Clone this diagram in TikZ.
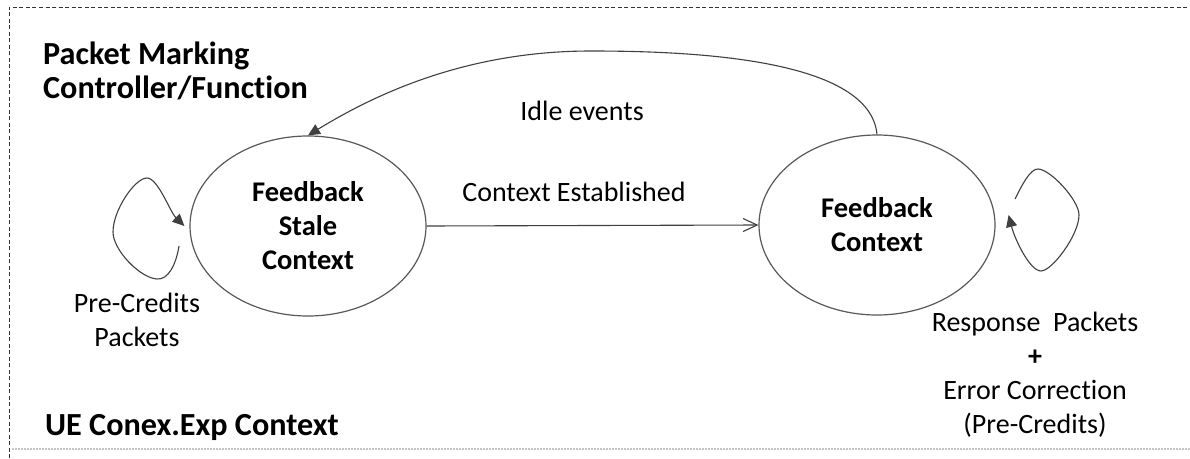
\documentclass[tikz,border=0pt]{standalone}
\usepackage{fontspec}
\setmainfont[Ligatures={NoCommon,NoContextual}]{Carlito}
\usetikzlibrary{shapes.geometric,arrows.meta}
\begin{document}
\begin{tikzpicture}[x=1pt,y=-1pt,
  state/.style={ellipse, draw=black!65, line width=1.2pt, minimum width=236pt,
    minimum height=180pt, inner sep=0pt, align=center,
    font=\fontsize{28.5}{34}\selectfont\bfseries},
  lbl/.style={align=center, inner sep=0pt, font=\fontsize{28}{34}\selectfont},
  heading/.style={align=left, inner sep=0pt, font=\fontsize{32.2}{34}\selectfont\bfseries},
  edge/.style={draw=black!75, line width=1.1pt},
  solid tip/.style={-{Triangle[length=12pt,width=11pt]}},
  open tip/.style={-{Straight Barb[length=14pt,width=13pt]}},
]
\useasboundingbox (0,0) rectangle (1190,458);
\fill[white] (0,0) rectangle (1190,458);

% outer frame
\draw[black!80, line width=0.9pt, dash pattern=on 4pt off 2.5pt] (9,458) -- (9,7) -- (1190,7);
\draw[black!22, line width=1.4pt, dash pattern=on 1.5pt off 1.5pt] (12,449) -- (1190,449);

% headings
\node[heading, anchor=west] (hdr) at (43,71) {Packet Marking\\Controller/Function};
\node[heading, anchor=west] (ctx) at (45,427) {UE Conex.Exp Context};

% states
\node[state] (s) at (308,226) {Feedback\\Stale\\Context};
\node[state] (f) at (877,225) {Feedback\\Context};

% transition: context established
\draw[edge, open tip] (s.east) -- (f.west);
\node[lbl] (ce) at (574,192) {Context Established};

% transition: idle events
\coordinate (peak) at (591,51);
\draw[edge, solid tip] (f.north) .. controls (870,60) and (700,51) .. (peak)
  .. controls (480,51) and (390,85) .. (s.north);
\node[lbl] (ie) at (582,111) {Idle events};

% self loop on the stale state
\coordinate (lstart) at (179,246);
\draw[edge, solid tip] (lstart) .. controls (176,265) and (168,280) .. (157,279)
  .. controls (140,278) and (113,250) .. (113,232)
  .. controls (113,210) and (135,178) .. (147,178)
  .. controls (158,178) and (170,212) .. ([xshift=-5pt]s.west);
\node[lbl] (pc) at (137,320) {Pre-Credits\\Packets};

% self loop on the feedback state
\coordinate (rstart) at (1015,199);
\draw[edge, solid tip] (rstart) .. controls (1022,185) and (1030,169) .. (1038,169)
  .. controls (1050,169) and (1079,200) .. (1079,215)
  .. controls (1079,235) and (1052,271) .. (1041,271)
  .. controls (1030,271) and (1015,240) .. ([shift={(13,-10)}]f.east);
\node[lbl] (rp) at (1035,375) {Response\ \ Packets\\\textbf{+}\\Error Correction\\(Pre-Credits)};
\end{tikzpicture}
\end{document}
